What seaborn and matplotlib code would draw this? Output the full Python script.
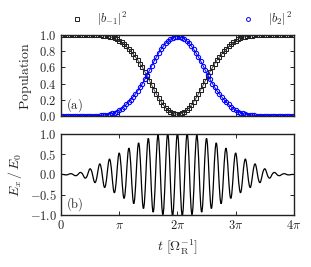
import numpy as np
import matplotlib
matplotlib.use("Agg")
import matplotlib.pyplot as plt
from matplotlib.lines import Line2D
from matplotlib.path import Path
from matplotlib.patches import PathPatch
import seaborn as sns

# time grid for the population markers, in units of pi (step pi/25)
t_pop = np.arange(101) / 25.0

# |b_{-1}|^2 (t = 0 ... 4 pi)
b_minus1 = [1.000, 1.000, 1.000, 1.000, 1.000, 1.000, 1.000, 1.000, 1.000,
            1.000, 1.000, 0.999, 0.999, 0.998, 0.998, 0.997, 0.996, 0.994,
            0.992, 0.989, 0.984, 0.978, 0.970, 0.959, 0.945, 0.928, 0.908,
            0.885, 0.858, 0.829, 0.797, 0.763, 0.727, 0.688, 0.645, 0.598,
            0.547, 0.492, 0.435, 0.378, 0.322, 0.270, 0.220, 0.175, 0.135,
            0.100, 0.072, 0.048, 0.030, 0.023, 0.020,
            0.023, 0.030, 0.048, 0.072, 0.100, 0.135, 0.175, 0.220, 0.270,
            0.322, 0.378, 0.435, 0.492, 0.547, 0.598, 0.645, 0.688, 0.727,
            0.763, 0.797, 0.829, 0.858, 0.885, 0.908, 0.928, 0.945, 0.959,
            0.970, 0.978, 0.984, 0.989, 0.992, 0.994, 0.996, 0.997, 0.998,
            0.998, 0.999, 0.999, 1.000, 1.000, 1.000, 1.000, 1.000, 1.000,
            1.000, 1.000, 1.000, 1.000, 1.000]

# |b_2|^2
b_2 = [0.000, 0.000, 0.000, 0.000, 0.000, 0.000, 0.000, 0.000, 0.000,
       0.000, 0.000, 0.001, 0.001, 0.002, 0.002, 0.003, 0.004, 0.006,
       0.008, 0.011, 0.016, 0.022, 0.030, 0.040, 0.054, 0.071, 0.091,
       0.114, 0.141, 0.170, 0.201, 0.235, 0.271, 0.310, 0.353, 0.400,
       0.451, 0.506, 0.563, 0.620, 0.676, 0.728, 0.778, 0.823, 0.863,
       0.898, 0.926, 0.950, 0.968, 0.975, 0.978,
       0.975, 0.968, 0.950, 0.926, 0.898, 0.863, 0.823, 0.778, 0.728,
       0.676, 0.620, 0.563, 0.506, 0.451, 0.400, 0.353, 0.310, 0.271,
       0.235, 0.201, 0.170, 0.141, 0.114, 0.091, 0.071, 0.054, 0.040,
       0.030, 0.022, 0.016, 0.011, 0.008, 0.006, 0.004, 0.003, 0.002,
       0.002, 0.001, 0.001, 0.000, 0.000, 0.000, 0.000, 0.000, 0.000,
       0.000, 0.000, 0.000, 0.000, 0.000]

# field extrema (crest/trough every pi/12), signed
t_ext = np.arange(49) / 12.0
e_ext = [0.00, -0.01, 0.02, -0.03, 0.05, -0.09, 0.14, -0.20, 0.26, -0.32,
         0.38, -0.45, 0.53, -0.59, 0.65, -0.72, 0.78, -0.84, 0.89, -0.93,
         0.97, -0.99, 1.01, -1.02, 1.02, -1.02, 1.01, -0.99, 0.97, -0.93,
         0.89, -0.84, 0.78, -0.72, 0.65, -0.59, 0.53, -0.45, 0.38, -0.32,
         0.26, -0.20, 0.14, -0.09, 0.05, -0.03, 0.02, -0.01, 0.00]

pop_ticks = [0.0, 0.2, 0.4, 0.6, 0.8, 1.0]
pop_labels = ["$0.0$", "$0.2$", "$0.4$", "$0.6$", "$0.8$", "$1.0$"]
field_ticks = [-1.0, -0.5, 0.0, 0.5, 1.0]
field_labels = ["$-1.0$", "$-0.5$", "$0.0$", "$0.5$", "$1.0$"]
t_ticks = [0, 1, 2, 3, 4]
t_labels = ["$0$", r"$\pi$", r"$2\pi$", r"$3\pi$", r"$4\pi$"]

sns.set_style("white")
plt.rcParams.update({
    "font.family": "serif",
    "mathtext.fontset": "cm",
    "font.size": 9,
    "axes.linewidth": 1.0,
    "axes.edgecolor": "#222222",
    "xtick.direction": "in",
    "ytick.direction": "in",
    "xtick.top": True,
    "ytick.right": True,
    "xtick.major.size": 3,
    "ytick.major.size": 3,
    "xtick.major.width": 0.7,
    "ytick.major.width": 0.7,
    "xtick.bottom": True,
    "ytick.left": True,
})

fig = plt.figure(figsize=(3.11, 2.67), dpi=100)
ax1 = fig.add_axes([0.196, 0.566, 0.749, 0.303])
ax2 = fig.add_axes([0.196, 0.195, 0.749, 0.303])

# panel (a): populations
sns.lineplot(x=t_pop, y=b_minus1, ax=ax1, color="#333333", lw=0.6,
             marker="s", markersize=3.4, markerfacecolor="none",
             markeredgecolor="#222222", markeredgewidth=0.75)
sns.lineplot(x=t_pop, y=b_2, ax=ax1, color="#0000ff", lw=0.7,
             marker="o", markersize=3.1, markerfacecolor="none",
             markeredgecolor="#0000ff", markeredgewidth=0.75)
ax1.set_xlim(0, 4)
ax1.set_ylim(0, 1)
ax1.set_xticks(t_ticks)
ax1.set_xticklabels([])
ax1.set_yticks(pop_ticks)
ax1.set_yticklabels(pop_labels)
ax1.set_ylabel(r"$\mathrm{Population}$", fontsize=10)
ax1.text(0.02, 0.02, r"$\mathrm{(a)}$", transform=ax1.transAxes,
         ha="left", va="bottom", fontsize=9)

# panel (b): field, smooth curve through the read extrema and zero crossings
verts = [(t_ext[0], e_ext[0])]
codes = [Path.MOVETO]
for i in range(len(t_ext) - 1):
    t0, a0 = t_ext[i], e_ext[i]
    t1, a1 = t_ext[i + 1], e_ext[i + 1]
    h = (t1 - t0) / 2
    tz = t0 + h
    slope = (a1 - a0) / 2 * (np.pi / 2) / h
    c = 0.36 * h
    verts += [(t0 + c, a0), (tz - c, -c * slope), (tz, 0.0),
              (tz + c, c * slope), (t1 - c, a1), (t1, a1)]
    codes += [Path.CURVE4] * 6
ax2.add_patch(PathPatch(Path(verts, codes), fill=False, ec="black", lw=0.9))
ax2.set_xlim(0, 4)
ax2.set_ylim(-1, 1)
ax2.set_xticks(t_ticks)
ax2.set_xticklabels(t_labels)
ax2.set_yticks(field_ticks)
ax2.set_yticklabels(field_labels)
ax2.set_ylabel(r"$E_x\,/\,E_0$", fontsize=10)
ax2.set_xlabel(r"$t\ [\Omega_{\rm R}^{-1}]$", fontsize=10)
ax2.text(0.02, 0.02, r"$\mathrm{(b)}$", transform=ax2.transAxes,
         ha="left", va="bottom", fontsize=9)

for ax in (ax1, ax2):
    ax.tick_params(labelsize=9, pad=3)

h1 = Line2D([], [], ls="none", marker="s", markersize=3.0,
            markerfacecolor="none", markeredgecolor="#222222", markeredgewidth=0.7)
h2 = Line2D([], [], ls="none", marker="o", markersize=2.8,
            markerfacecolor="none", markeredgecolor="#0000ff", markeredgewidth=0.7)
for h, lab, x in [(h1, r"$|b_{-1}|^2$", 0.2275), (h2, r"$|b_2|^2$", 0.777)]:
    fig.legend(handles=[h], labels=[lab], loc="center left",
               bbox_to_anchor=(x, 0.929), frameon=False, borderpad=0,
               borderaxespad=0, handlelength=1.0, handletextpad=1.1,
               fontsize=9)

fig.savefig("out.png", dpi=100)
